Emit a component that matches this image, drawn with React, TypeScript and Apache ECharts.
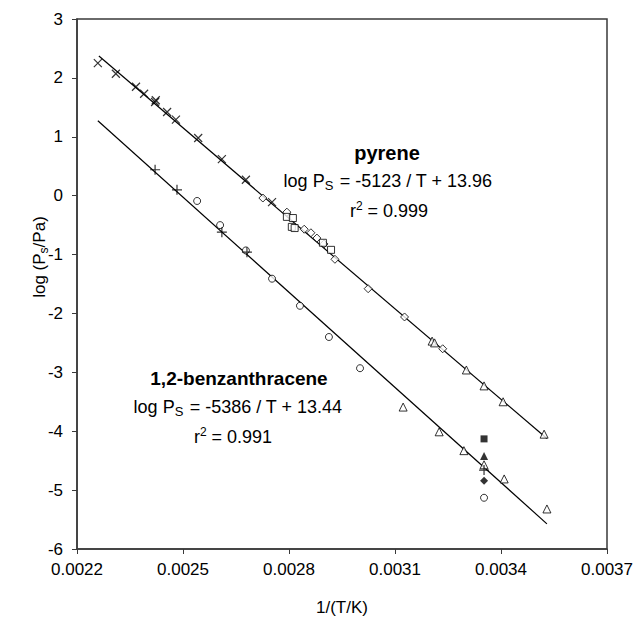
import React, { useEffect, useRef } from "react";
import * as echarts from "echarts";

// ---- data (1/(T/K), log(Ps/Pa)) ----
const xTicks = [0.0022, 0.0025, 0.0028, 0.0031, 0.0034, 0.0037];

const pyreneCross: number[][] = [
  [0.002259, 2.25], [0.00231, 2.07], [0.002367, 1.85], [0.00239, 1.73],
  [0.002421, 1.59], [0.002423, 1.62], [0.002455, 1.42], [0.00248, 1.29],
  [0.002543, 0.98], [0.00261, 0.62], [0.002678, 0.27], [0.002752, -0.11],
];
const pyreneDiamond: number[][] = [
  [0.002726, -0.04], [0.002794, -0.28], [0.002843, -0.57], [0.002862, -0.63],
  [0.002879, -0.72], [0.002899, -0.82], [0.00293, -1.08], [0.003024, -1.58],
  [0.003127, -2.06], [0.003235, -2.6],
];
const pyreneSquare: number[][] = [
  [0.002794, -0.36], [0.002811, -0.38], [0.002808, -0.53], [0.002816, -0.55],
  [0.002896, -0.8], [0.002919, -0.92],
];
const pyreneTriangle: number[][] = [
  [0.003205, -2.47], [0.003212, -2.5], [0.003302, -2.96], [0.003352, -3.23],
  [0.003406, -3.5], [0.003522, -4.05],
];

const benzPlus: number[][] = [
  [0.002421, 0.44], [0.002483, 0.1], [0.00261, -0.62], [0.002681, -0.96],
  [0.003352, -4.66],
];
const benzCircle: number[][] = [
  [0.00254, -0.09], [0.002605, -0.5], [0.002678, -0.93], [0.002752, -1.41],
  [0.002831, -1.87], [0.002913, -2.4], [0.003001, -2.93], [0.003352, -5.13],
];
const benzTriangle: number[][] = [
  [0.003123, -3.59], [0.003225, -4.01], [0.003295, -4.33], [0.003352, -4.57],
  [0.003409, -4.81], [0.00353, -5.32],
];
const benzFilledSquare: number[][] = [[0.003352, -4.13]];
const benzFilledTriangle: number[][] = [[0.003352, -4.42]];
const benzFilledDiamond: number[][] = [[0.003352, -4.84]];

// regression lines: log Ps = slope / T + intercept
const fitSlopes = [-5123, -5386];
const fitIntercepts = [13.96, 13.44];
const fitRanges = [
  [0.002262, 0.00353],
  [0.002259, 0.00353],
];

const FONT = "'Liberation Sans', Arial, Helvetica, sans-serif";

const crossPath = "path://M0,0L10,10M10,0L0,10";
const plusPath = "path://M5,0L5,10M0,5L10,5";

function openSeries(data: number[][], symbol: string, size: number | number[]) {
  return {
    type: "scatter",
    data,
    symbol,
    symbolSize: size,
    itemStyle: { color: "#fff", borderColor: "#000", borderWidth: 1 },
    z: 3,
  };
}
function strokeSeries(data: number[][], symbol: string, size: number) {
  return {
    type: "scatter",
    data,
    symbol,
    symbolSize: size,
    itemStyle: { color: "none", borderColor: "#000", borderWidth: 1.2 },
    z: 4,
  };
}
function filledSeries(data: number[][], symbol: string, size: number) {
  return {
    type: "scatter",
    data,
    symbol,
    symbolSize: size,
    itemStyle: { color: "#000", borderColor: "#000", borderWidth: 0 },
    z: 4,
  };
}

const rich = {
  n: { fontSize: 18, fontFamily: FONT, color: "#000", lineHeight: 22 },
  sub: { fontSize: 13, fontFamily: FONT, color: "#000", lineHeight: 22, verticalAlign: "bottom", padding: [0, 1, 0, 0] },
  sup: { fontSize: 12, fontFamily: FONT, color: "#000", lineHeight: 12, verticalAlign: "top" },
  t: { fontSize: 17, fontFamily: FONT, color: "#000", lineHeight: 22 },
  ts: { fontSize: 12, fontFamily: FONT, color: "#000", lineHeight: 22, verticalAlign: "bottom" },
};

function txt(x: number, y: number, text: string, extra: any = {}) {
  return {
    type: "text",
    x,
    y,
    style: {
      text,
      align: "center",
      verticalAlign: "middle",
      fontFamily: FONT,
      fontSize: 18,
      fill: "#000",
      rich,
      ...extra,
    },
  };
}

export default function App() {
  const ref = useRef<HTMLDivElement>(null);
  useEffect(() => {
    if (!ref.current) return;
    const chart = echarts.init(ref.current, undefined, { renderer: "svg" });
    const lines = fitSlopes.map((s, i) => ({
      type: "line",
      data: fitRanges[i].map((x) => [x, s * x + fitIntercepts[i]]),
      showSymbol: false,
      symbol: "none",
      lineStyle: { color: "#000", width: 1.2 },
      z: 2,
    }));
    chart.setOption({
      animation: false,
      backgroundColor: "#fff",
      grid: {
        left: 77, top: 19, width: 530, height: 530,
        show: true, borderColor: "#3a3a3a", borderWidth: 1.5, backgroundColor: "transparent",
      },
      xAxis: {
        type: "value",
        min: 0.0022,
        max: 0.0037,
        axisLine: { show: true, onZero: false, lineStyle: { color: "#3a3a3a", width: 1.5 } },
        axisTick: { show: true, inside: false, length: 5, customValues: xTicks, lineStyle: { color: "#3a3a3a" } },
        axisLabel: {
          customValues: xTicks,
          formatter: (v: number) => v.toFixed(4),
          fontSize: 17, fontFamily: FONT, color: "#000", margin: 12,
        },
        splitLine: { show: false },
      },
      yAxis: {
        type: "value",
        min: -6,
        max: 3,
        interval: 1,
        axisLine: { show: true, onZero: false, lineStyle: { color: "#3a3a3a", width: 1.5 } },
        axisTick: { show: true, inside: false, length: 5, lineStyle: { color: "#3a3a3a" } },
        axisLabel: { fontSize: 17, fontFamily: FONT, color: "#000", margin: 14 },
        splitLine: { show: false },
      },
      series: [
        ...lines,
        strokeSeries(pyreneCross, crossPath, 8),
        openSeries(pyreneDiamond, "diamond", 8),
        openSeries(pyreneSquare, "rect", 7),
        openSeries(pyreneTriangle, "triangle", 8),
        openSeries(benzCircle, "circle", 7),
        openSeries(benzTriangle, "triangle", 8),
        strokeSeries(benzPlus, plusPath, 10),
        filledSeries(benzFilledSquare, "rect", 7),
        filledSeries(benzFilledTriangle, "triangle", 8),
        filledSeries(benzFilledDiamond, "diamond", 8),
      ],
      graphic: [
        txt(387, 153, "pyrene", { fontWeight: "bold", fontSize: 20 }),
        txt(388, 181, "{n|log P}{sub|S}{n| = -5123 / T + 13.96}"),
        txt(389, 211, "{n|r}{sup|2}{n| = 0.999}"),
        txt(239, 378, "1,2-benzanthracene", { fontWeight: "bold", fontSize: 19 }),
        txt(238, 407, "{n|log P}{sub|S}{n| = -5386 / T + 13.44}"),
        txt(233, 437, "{n|r}{sup|2}{n| = 0.991}"),
        txt(342, 607, "1/(T/K)", { fontSize: 17 }),
        {
          type: "text",
          x: 39,
          y: 257,
          rotation: Math.PI / 2,
          style: {
            text: "{t|log (P}{ts|s}{t|/Pa)}",
            align: "center",
            verticalAlign: "middle",
            rich,
          },
        },
      ],
    });
    return () => chart.dispose();
  }, []);
  return (
    <div
      ref={ref}
      style={{ position: "absolute", left: 0, top: 0, width: 636, height: 618, background: "#fff" }}
    />
  );
}
